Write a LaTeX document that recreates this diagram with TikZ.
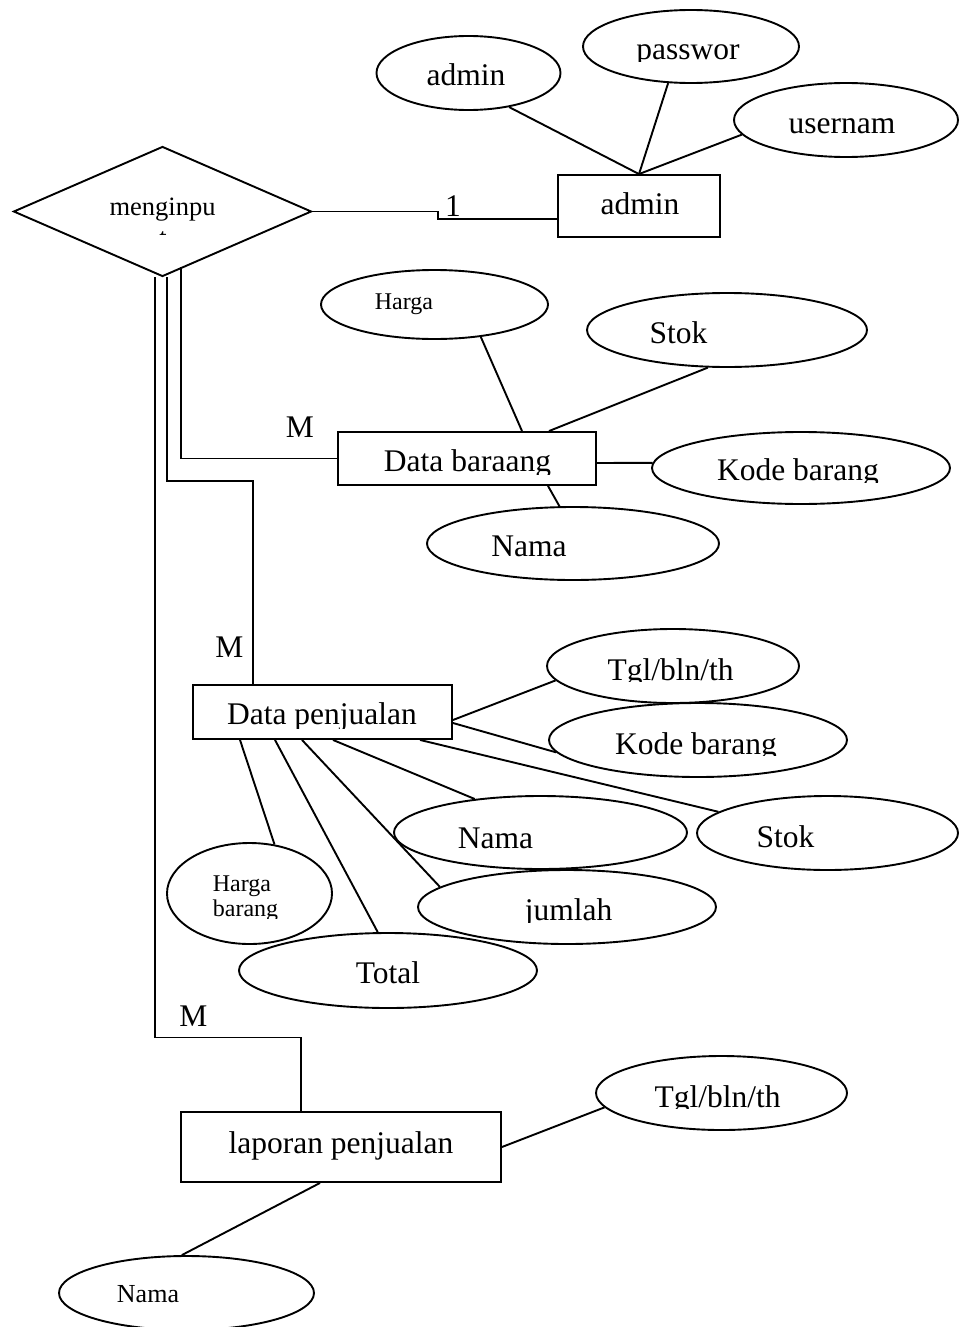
\documentclass[tikz,border=0pt]{standalone}
\usepackage{fontspec}
\setmainfont{Liberation Serif}
\usetikzlibrary{shapes.geometric}

\tikzset{
  attr/.style={draw, ellipse, inner sep=0pt, line width=1.9pt},
  entity/.style={draw, rectangle, inner sep=0pt, line width=1.9pt},
  rel/.style={draw, diamond, inner sep=0pt, line width=1.9pt},
  txt/.style={inner sep=0pt, anchor=base, font=\fontsize{31.5}{36}\selectfont},
  small/.style={txt, font=\fontsize{24}{28}\selectfont},
  link/.style={line width=1.9pt},
}

% text whose lower part is cut off at a given height
% #1 name, #2 x, #3 baseline y, #4 cut y, #5 font size, #6 text
\newcommand\cuttxt[6]{%
  \begin{scope}
    \clip (#2-220,#3-60) rectangle (#2+220,#4);
    \node[txt, font=\fontsize{#5}{#5}\selectfont] (#1) at (#2,#3) {#6};
  \end{scope}}

\begin{document}
\begin{tikzpicture}[x=1pt,y=-1pt]
\useasboundingbox (0,0) rectangle (958,1327);

% relationship
\node[rel, minimum width=298pt, minimum height=130pt] (inp) at (162.5,211.5) {};
\node[txt, font=\fontsize{26.5}{30}\selectfont] (tInp) at (162.5,215) {menginpu};
\cuttxt{tInp2}{163}{246}{234}{26.5}{t}

% admin entity and its attributes
\node[entity, minimum width=162pt, minimum height=62pt] (adm) at (639,206) {};
\node[txt] (tAdm) at (640,214) {admin};
\node[attr, minimum width=184pt, minimum height=74pt] (aAdm) at (468.5,73) {};
\node[txt] (taAdm) at (466,86) {admin};
\node[attr, minimum width=216pt, minimum height=73pt] (aPass) at (691,46.5) {};
\cuttxt{taPass}{688}{60}{62}{31.5}{passwor}
\node[attr, minimum width=224pt, minimum height=74pt] (aUser) at (846,120) {};
\node[txt] (taUser) at (842,133) {usernam};
\draw[link] (aAdm.-40) -- (adm.north);
\draw[link] (aPass.-122) -- (adm.north);
\draw[link] (aUser.188) -- (adm.north);

\draw[link] (inp.east) -- ++(125.5,0) |- ([yshift=-13pt]adm.west);
\node[txt] (one) at (453,216) {1};

% Data baraang
\node[entity, minimum width=258pt, minimum height=53pt] (db) at (467,458.5) {};
\cuttxt{tDb}{467.5}{471}{474}{31.5}{Data baraang}
\node[attr, minimum width=227pt, minimum height=69pt] (bHarga) at (434.5,304.5) {};
\node[small] (tbHarga) at (404,309) {Harga};
\node[attr, minimum width=280pt, minimum height=74pt] (bStok) at (727,330) {};
\node[txt] (tbStok) at (678.5,343) {Stok};
\node[attr, minimum width=298pt, minimum height=72pt] (bKode) at (801,468) {};
\cuttxt{tbKode}{798}{480}{482}{31.5}{Kode barang}
\node[attr, minimum width=292pt, minimum height=73pt] (bNama) at (573,543.5) {};
\node[txt] (tbNama) at (529,556) {Nama};
\draw[link] (bHarga.-35) -- ([xshift=55pt]db.north);
\draw[link] (bStok.-117) -- ([xshift=82pt]db.north);
\draw[link] ([yshift=-4.5pt]db.east) -- (bKode.178);
\draw[link] ([xshift=81pt]db.south) -- (bNama.110);

\draw[link] ([xshift=18.5pt,yshift=10pt]inp.south) |- (db.west);
\node[txt] (mDb) at (300,437) {M};

% Data penjualan
\node[entity, minimum width=259pt, minimum height=54pt] (dp) at (322.5,712) {};
\cuttxt{tDp}{322}{724}{728}{31.5}{Data penjualan}
\node[attr, minimum width=252pt, minimum height=74pt] (pTgl) at (673,666) {};
\cuttxt{tpTgl}{670.5}{680}{681.5}{31.5}{Tgl/bln/th}
\node[attr, minimum width=298pt, minimum height=74pt] (pKode) at (698,740) {};
\cuttxt{tpKode}{696}{754}{755.5}{31.5}{Kode barang}
\node[attr, minimum width=261pt, minimum height=74pt] (pStok) at (827.5,833) {};
\node[txt] (tpStok) at (785.5,847) {Stok};
\node[attr, minimum width=293pt, minimum height=73pt] (pNama) at (540.5,832.5) {};
\node[txt] (tpNama) at (495.5,848) {Nama};
\node[attr, minimum width=298pt, minimum height=74pt] (pJml) at (567,907) {};
\cuttxt{tpJml}{568.5}{920}{922}{31.5}{jumlah}
\node[attr, minimum width=165pt, minimum height=101pt] (pHb) at (249.5,893.5) {};
\node[small] (tpHb1) at (242,891) {Harga};
\cuttxt{tpHb2}{245.5}{916}{918}{24}{barang}
\node[attr, minimum width=298pt, minimum height=75pt] (pTot) at (388,970.5) {};
\node[txt] (tpTot) at (388,983) {Total};
\draw[link] ([yshift=-8pt]dp.east) -- (pTgl.187);
\draw[link] ([yshift=-11pt]dp.east) -- (pKode.185.4);
\draw[link] ([xshift=97.5pt]dp.south) -- (pStok.169);
\draw[link] ([xshift=10.5pt]dp.south) -- (pNama.153);
\draw[link] ([xshift=-20.5pt]dp.south) -- (pJml.171.5);
\draw[link] ([xshift=-47.5pt]dp.south) -- (pTot.105);
\draw[link] ([xshift=-82.5pt]dp.south) -- (pHb.63);

\draw[link] ([xshift=4.5pt]inp.south) -- ++(0,203.5) -| ([xshift=-69.5pt]dp.north);
\node[txt] (mDp) at (229.5,657) {M};

% laporan penjualan
\node[entity, minimum width=320pt, minimum height=70pt] (lap) at (341,1147) {};
\node[txt] (tLap) at (341,1153) {laporan penjualan};
\node[attr, minimum width=251pt, minimum height=74pt] (lTgl) at (721.5,1093) {};
\cuttxt{tlTgl}{717.5}{1107}{1108.5}{31.5}{Tgl/bln/th}
\node[attr, minimum width=255pt, minimum height=74pt] (lNama) at (186.5,1293) {};
\node[txt, font=\fontsize{26}{30}\selectfont] (tlNama) at (148,1302) {Nama};
\draw[link] (lap.east) -- (lTgl.187);
\draw[link] ([xshift=-21pt]lap.south) -- (lNama.97);

\draw[link] ([xshift=-7.5pt]inp.south) -- ++(0,760) -| ([xshift=-40pt]lap.north);
\node[txt] (mLap) at (193.5,1026) {M};

\end{tikzpicture}
\end{document}
